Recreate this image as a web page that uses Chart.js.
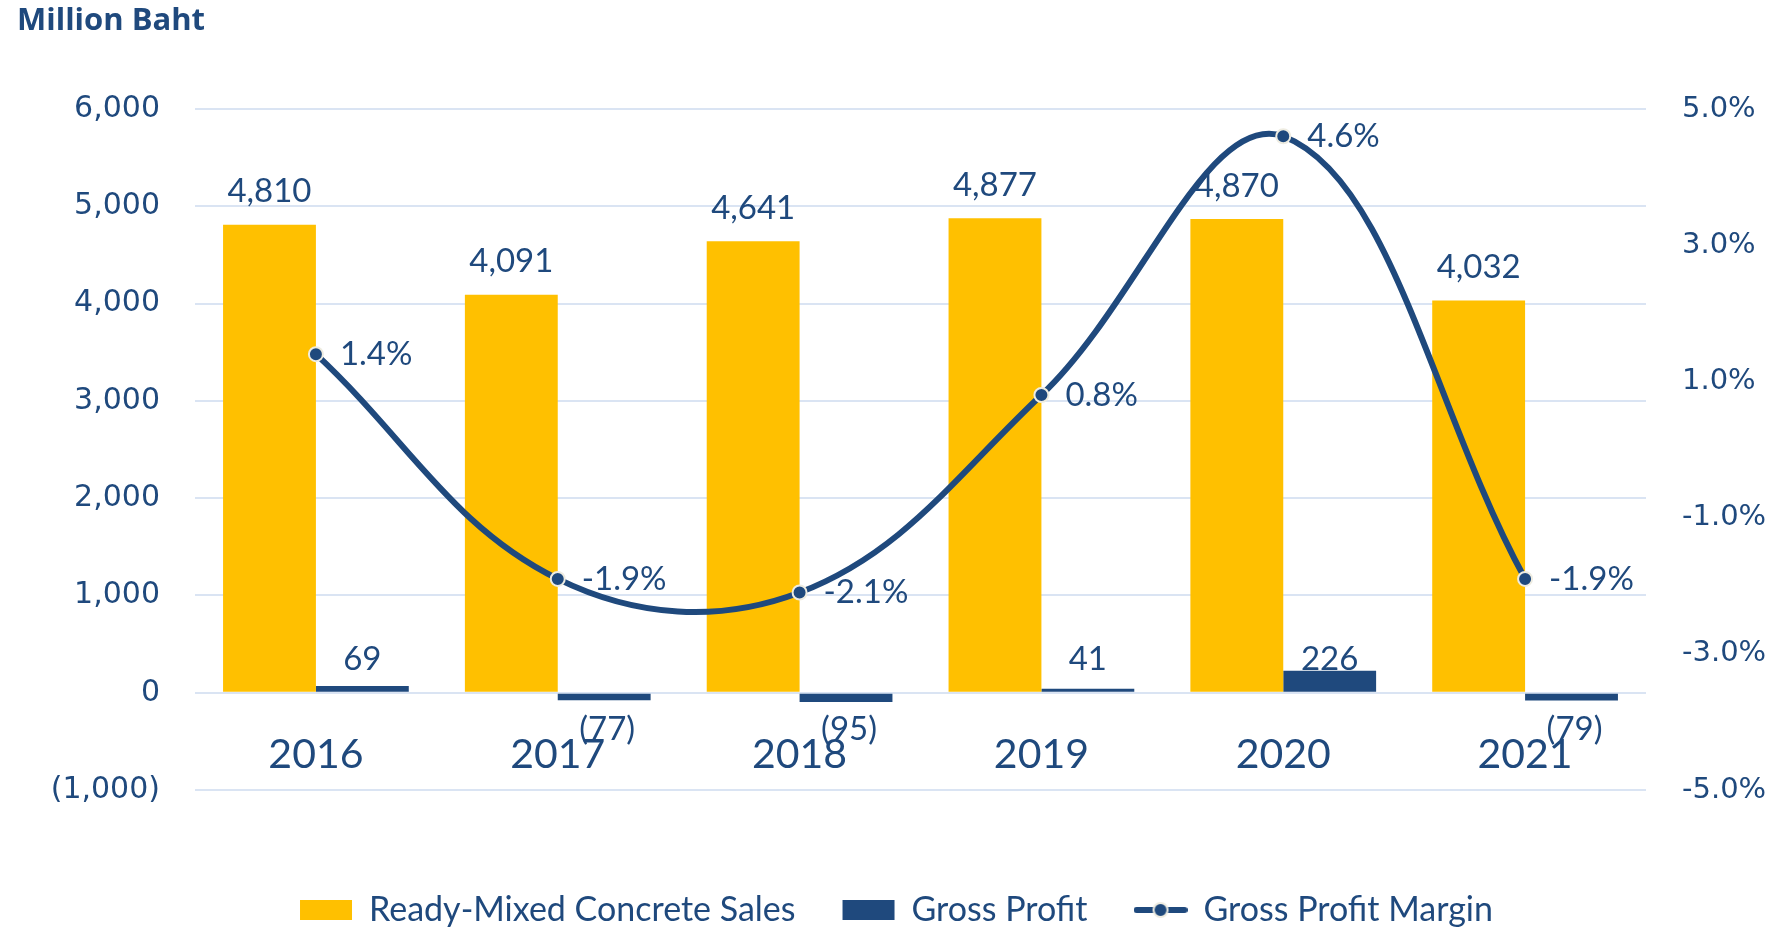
<!DOCTYPE html>
<html lang="en">
<head>
    <meta charset="UTF-8">
    <title>Ready-Mixed Concrete Sales</title>
    <script src="https://cdn.jsdelivr.net/npm/chart.js"></script>
    <style>
        html, body { margin: 0; padding: 0; background: #ffffff; }
        #wrap { width: 1776px; height: 927px; }
    </style>
</head>
<body>
    <div id="wrap">
        <canvas id="myChart" width="1776" height="927"></canvas>
    </div>

<script>
    // dados do grafico
    const years = ['2016', '2017', '2018', '2019', '2020', '2021'];
    const concreteSales = [4810, 4091, 4641, 4877, 4870, 4032];
    const grossProfit = [69, -77, -95, 41, 226, -79];
    const grossMargin = [1.4, -1.9, -2.1, 0.8, 4.6, -1.9];

    const navy = '#1f497d';
    const yellow = '#ffc000';
    const gridColor = '#dae4f3';
    const labelFont = 'Lato';

    function fmtBaht(v) {
        const s = Math.abs(v).toLocaleString('en-US');
        return v < 0 ? '(' + s + ')' : s;
    }

    // simbolo da linha na legenda (linha com bolinha)
    const lineSymbol = document.createElement('canvas');
    lineSymbol.width = 54;
    lineSymbol.height = 20;
    (function () {
        const c = lineSymbol.getContext('2d');
        c.strokeStyle = navy;
        c.lineWidth = 6;
        c.lineCap = 'round';
        c.beginPath();
        c.moveTo(3, 10);
        c.lineTo(51, 10);
        c.stroke();
        c.beginPath();
        c.arc(27, 10, 7, 0, Math.PI * 2);
        c.fillStyle = navy;
        c.fill();
        c.lineWidth = 2;
        c.strokeStyle = '#eeece1';
        c.stroke();
    })();

    // rotulos de dados
    const dataLabels = {
        id: 'dataLabels',
        afterDatasetsDraw(chart) {
            const ctx = chart.ctx;
            ctx.save();
            ctx.fillStyle = navy;
            ctx.font = '33px ' + labelFont;
            ctx.textBaseline = 'middle';

            chart.getDatasetMeta(0).data.forEach((bar, i) => {
                ctx.textAlign = 'center';
                ctx.fillText(fmtBaht(concreteSales[i]), bar.x, bar.y - 33);
            });

            chart.getDatasetMeta(1).data.forEach((bar, i) => {
                ctx.textAlign = 'center';
                const v = grossProfit[i];
                if (v >= 0) {
                    ctx.fillText(fmtBaht(v), bar.x, bar.base - 32);
                } else {
                    ctx.fillText(fmtBaht(v), bar.x + 3, bar.base + 36);
                }
            });

            chart.getDatasetMeta(2).data.forEach((pt, i) => {
                ctx.textAlign = 'left';
                ctx.fillText(grossMargin[i].toFixed(1) + '%', pt.x + 24, pt.y);
            });
            ctx.restore();
        }
    };

    const ctx = document.getElementById('myChart').getContext('2d');
    const myChart = new Chart(ctx, {
        type: 'bar',
        data: {
            labels: years,
            datasets: [{
                label: 'Ready-Mixed Concrete Sales',
                data: concreteSales,
                backgroundColor: yellow,
                yAxisID: 'y',
                order: 1,
                barPercentage: 1,
                categoryPercentage: 0.768
            }, {
                label: 'Gross Profit',
                data: grossProfit,
                backgroundColor: navy,
                yAxisID: 'y',
                order: 1,
                barPercentage: 1,
                categoryPercentage: 0.768
            }, {
                type: 'line',
                label: 'Gross Profit Margin',
                data: grossMargin,
                yAxisID: 'y1',
                order: 0,
                borderColor: navy,
                backgroundColor: navy,
                borderWidth: 6,
                tension: 0.38,
                pointRadius: 7,
                pointBackgroundColor: navy,
                pointBorderColor: '#eeece1',
                pointBorderWidth: 2,
                clip: false
            }]
        },
        options: {
            responsive: false,
            devicePixelRatio: 1,
            animation: false,
            layout: {
                padding: { left: 17, right: 0, top: 0, bottom: -10 }
            },
            scales: {
                x: {
                    position: { y: 0 },
                    grid: { display: false, drawTicks: false },
                    border: { display: false },
                    ticks: {
                        color: navy,
                        font: { family: labelFont, size: 41 },
                        padding: 37,
                        maxRotation: 0,
                        autoSkip: false
                    }
                },
                y: {
                    position: 'left',
                    min: -1000,
                    max: 6000,
                    afterFit: (s) => { s.width = 178; },
                    grid: { color: gridColor, lineWidth: 2, drawTicks: false },
                    border: { display: false },
                    ticks: {
                        stepSize: 1000,
                        color: navy,
                        padding: 35,
                        font: { family: 'DejaVu Sans', size: 30 },
                        callback: (v) => fmtBaht(v)
                    }
                },
                y1: {
                    position: 'right',
                    min: -5,
                    max: 5,
                    afterFit: (s) => { s.width = 130; },
                    grid: { display: false, drawTicks: false },
                    border: { display: false },
                    ticks: {
                        stepSize: 2,
                        color: navy,
                        padding: 36,
                        font: { family: 'DejaVu Sans', size: 29 },
                        callback: (v) => v.toFixed(1) + '%'
                    }
                }
            },
            plugins: {
                title: {
                    display: true,
                    text: 'Million Baht',
                    align: 'start',
                    color: navy,
                    font: { family: 'Open Sans', size: 31, weight: 'bold', lineHeight: 1.2 },
                    padding: { top: 3, bottom: 68.8 }
                },
                legend: {
                    position: 'bottom',
                    title: {
                        display: true,
                        text: ' ',
                        font: { size: 10, lineHeight: 1.2 },
                        padding: 22
                    },
                    labels: {
                        color: navy,
                        font: { family: labelFont, size: 34 },
                        usePointStyle: true,
                        pointStyleWidth: 52,
                        boxHeight: 20,
                        padding: 47,
                        sort: (a, b) => a.datasetIndex - b.datasetIndex,
                        generateLabels: (chart) => {
                            const items = Chart.defaults.plugins.legend.labels.generateLabels(chart);
                            items.forEach((it) => {
                                it.lineWidth = 0;
                                it.pointStyle = it.datasetIndex === 2 ? lineSymbol : 'rect';
                            });
                            return items;
                        }
                    }
                },
                tooltip: { enabled: false }
            }
        },
        plugins: [dataLabels]
    });
</script>
</body>
</html>
